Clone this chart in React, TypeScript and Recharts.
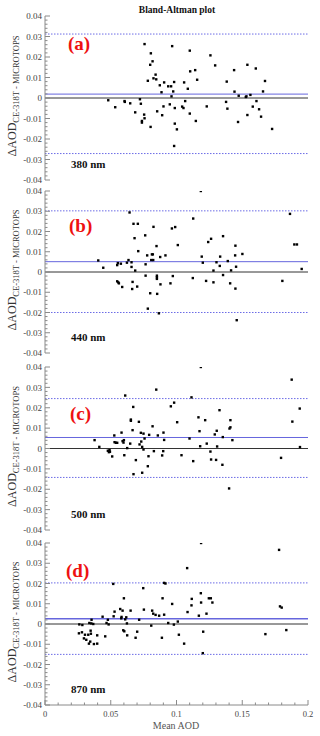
import React from "react";
import {
  ScatterChart,
  Scatter,
  XAxis,
  YAxis,
  ReferenceLine,
} from "recharts";

// Mean AOD vs difference (CE-318T - MICROTOPS)
const pts380: [number, number][] = [
  [0.0481, -0.0011], [0.0534, -0.0045], [0.0605, -0.0015], [0.0607, -0.0019],
  [0.0648, -0.0026], [0.0686, -0.007], [0.0722, -0.0006], [0.0729, -0.0028],
  [0.0737, -0.0112], [0.0737, -0.012], [0.0754, -0.0081], [0.0757, -0.0099],
  [0.0757, 0.0263], [0.0782, 0.0084], [0.08, 0.0162], [0.0805, 0.0218],
  [0.0818, 0.0179], [0.0803, -0.0141], [0.0825, 0.0096], [0.0841, 0.0114],
  [0.0846, 0.0091], [0.0853, -0.0065], [0.0873, 0.0062], [0.0886, 0.0028],
  [0.0891, -0.0084], [0.0901, -0.0041], [0.0906, 0.0076], [0.0937, 0.0057],
  [0.0949, -0.0031], [0.0959, 0.0057], [0.0962, 0.0008], [0.0967, 0.0253],
  [0.0975, 0.0032], [0.0982, 0.0078], [0.0987, -0.0049], [0.0987, -0.0125],
  [0.0982, -0.0234], [0.1003, -0.0153], [0.1043, -0.0042], [0.1053, -0.0049],
  [0.1058, 0.0076], [0.1066, -0.0015], [0.1086, 0.0045], [0.1101, 0.0231],
  [0.1104, 0.013], [0.1101, -0.0076], [0.1142, 0.0136], [0.1147, -0.0112],
  [0.1157, 0.0089], [0.123, -0.0041], [0.1258, 0.0208], [0.1294, 0.0159],
  [0.1377, -0.0019], [0.1382, 0.008], [0.1387, -0.0052], [0.1438, 0.0136],
  [0.1441, 0.0031], [0.1468, -0.0117], [0.1473, 0.0011], [0.1527, 0.0005],
  [0.1532, 0.0008], [0.1539, 0.0162], [0.1539, -0.0083], [0.1562, 0.0015],
  [0.158, -0.0042], [0.1603, 0.0144], [0.1608, -0.0015], [0.1628, -0.0055],
  [0.1643, -0.0091], [0.1658, 0.0032], [0.1673, 0.0083], [0.1727, -0.0151],
];

const pts440: [number, number][] = [
  [0.0405, 0.0057], [0.0443, 0.0021], [0.0549, 0.0034], [0.0554, 0.0044],
  [0.0549, -0.0046], [0.0557, -0.0051], [0.0562, -0.0056], [0.0577, 0.0041],
  [0.0587, -0.0074], [0.0623, 0.0046], [0.0635, 0.0059], [0.0643, 0.0294],
  [0.0658, 0.0048], [0.0658, 0.0025], [0.0666, -0.0049], [0.0663, -0.0084],
  [0.0673, 0.0238], [0.0681, 0.0167], [0.0686, 0.0007], [0.0701, -0.0072],
  [0.0706, 0.0238], [0.0709, 0.0103], [0.0762, 0.0181], [0.0765, 0.0038],
  [0.0765, -0.0018], [0.0777, 0.0082], [0.0782, -0.0181], [0.08, -0.0105],
  [0.0808, 0.0059], [0.0813, 0.0087], [0.082, 0.0087], [0.0823, 0.0059],
  [0.0825, 0.0223], [0.0848, 0.0128], [0.0851, -0.0018], [0.0851, -0.0026],
  [0.0851, -0.0034], [0.0853, -0.0108], [0.0866, -0.0204], [0.0876, 0.0074],
  [0.0878, -0.0061], [0.0916, 0.0082], [0.0954, -0.0056], [0.0972, -0.002],
  [0.0965, 0.0215], [0.099, 0.0222], [0.101, 0.0133], [0.1124, -0.003],
  [0.1127, 0.0264], [0.1185, 0.04], [0.1192, 0.0076], [0.12, 0.0046],
  [0.1225, -0.0044], [0.1241, 0.0148], [0.1263, 0.0164], [0.1281, -0.0051],
  [0.1281, 0.0007], [0.1304, 0.0048], [0.1329, 0.003], [0.1332, 0.0076],
  [0.1354, 0.0177], [0.1354, -0.0015], [0.139, 0.0054], [0.1408, -0.0056],
  [0.1415, 0.0008], [0.1446, 0.0082], [0.1448, 0.013], [0.1448, -0.0082],
  [0.1453, 0.0026], [0.1458, -0.0238], [0.1501, 0.0089], [0.1805, -0.0044],
  [0.1863, 0.0287], [0.1896, 0.0136], [0.1916, 0.0136], [0.1952, 0.0015],
];

const pts500: [number, number][] = [
  [0.0377, 0.0041], [0.0413, 0.0008], [0.0478, -0.0011], [0.0486, -0.0018],
  [0.0491, -0.0008], [0.0494, -0.0016], [0.0511, -0.0039], [0.0527, 0.0064],
  [0.0529, 0.0031], [0.0539, 0.0028], [0.0549, 0.0028], [0.0582, 0.0078],
  [0.059, 0.0036], [0.0597, 0.0029], [0.06, 0.0041], [0.0603, -0.0033],
  [0.061, 0.026], [0.0625, 0.0002], [0.0648, 0.0024], [0.0653, 0.0142],
  [0.0653, 0.0136], [0.0666, 0.009], [0.0671, 0.0204], [0.0673, -0.0126],
  [0.0691, -0.0057], [0.0714, 0.0131], [0.0719, 0.002], [0.0729, 0.0077],
  [0.0732, 0.0034], [0.0739, 0.0008], [0.0739, -0.0119], [0.0749, 0.0073],
  [0.0749, -0.0005], [0.0757, 0.0049], [0.0787, -0.0038], [0.0782, -0.0087],
  [0.0792, 0.0067], [0.0818, 0.0109], [0.0828, -0.0013], [0.0846, 0.0289],
  [0.0858, 0.0064], [0.0891, -0.0034], [0.0899, -0.0013], [0.0901, 0.0078],
  [0.0906, 0.0042], [0.0957, 0.0207], [0.0982, 0.0225], [0.1005, 0.0129],
  [0.1038, -0.0033], [0.1099, 0.0049], [0.1114, 0.0251], [0.1127, -0.0062],
  [0.1167, 0.0153], [0.1175, 0.0085], [0.118, 0.0011], [0.1185, 0.04],
  [0.1218, 0.0139], [0.123, 0.0024], [0.1258, -0.0015], [0.1263, -0.0054],
  [0.1291, 0.0069], [0.1301, -0.0056], [0.1306, 0.0087], [0.1309, 0.001],
  [0.1327, 0.0188], [0.1349, -0.008], [0.1352, 0.0056], [0.14, -0.0196],
  [0.1403, 0.0098], [0.141, 0.0139], [0.141, 0.0104], [0.1425, 0.0041],
  [0.1795, -0.0046], [0.1876, 0.0338], [0.1881, 0.0132], [0.1937, 0.0196],
  [0.1939, 0.0007],
];

const pts870: [number, number][] = [
  [0.0261, -0.0002], [0.0258, -0.0046], [0.0284, -0.0005], [0.0281, -0.0041],
  [0.0296, -0.0071], [0.0304, -0.0053], [0.0314, -0.0078], [0.0329, -0.0053],
  [0.0334, -0.0097], [0.0337, 0.0005], [0.0344, -0.0087], [0.0349, -0.0048],
  [0.0347, -0.0033], [0.0352, 0.0003], [0.0354, 0.0021], [0.0367, 0.0],
  [0.0372, -0.0099], [0.0397, -0.0056], [0.0397, -0.0097], [0.0438, 0.0036],
  [0.0458, -0.0061], [0.0468, 0.0005], [0.0478, 0.0021], [0.0484, -0.0002],
  [0.0519, 0.0198], [0.0522, 0.0038], [0.0529, 0.0061], [0.0572, 0.0074],
  [0.058, 0.0028], [0.0582, 0.0035], [0.059, 0.0066], [0.0595, -0.0031],
  [0.06, 0.0127], [0.0603, -0.0036], [0.061, 0.0023], [0.0618, 0.0033],
  [0.0623, 0.0003], [0.0625, -0.0056], [0.0651, 0.0066], [0.0689, -0.0068],
  [0.0701, -0.0038], [0.0716, 0.0021], [0.0747, 0.0177], [0.0752, 0.0071],
  [0.0808, -0.0008], [0.0815, 0.0066], [0.0823, 0.0051], [0.0841, 0.0045],
  [0.0868, 0.0041], [0.0889, -0.0068], [0.0894, 0.0127], [0.0906, 0.0046],
  [0.0906, 0.0203], [0.0916, 0.02], [0.0937, 0.0005], [0.0967, 0.0099],
  [0.098, -0.0003], [0.101, 0.0012], [0.1018, -0.0053], [0.1058, -0.0097],
  [0.1081, 0.0276], [0.1084, 0.0059], [0.1114, 0.0092], [0.1116, 0.0124],
  [0.117, 0.0041], [0.1185, 0.0152], [0.1187, 0.0106], [0.1187, 0.04],
  [0.12, -0.0144], [0.1203, -0.0038], [0.1228, 0.0051], [0.1246, 0.0127],
  [0.1261, 0.0127], [0.1273, 0.0106], [0.1676, -0.005], [0.178, 0.0366],
  [0.1787, 0.0087], [0.18, 0.0081], [0.1835, -0.003],
];

const series = [pts380, pts440, pts500, pts870];
const wavelengths = ["380 nm", "440 nm", "500 nm", "870 nm"];
const tags = ["(a)", "(b)", "(c)", "(d)"];
const bias = [0.0019, 0.0051, 0.0054, 0.0026];
const upperLoA = [0.0312, 0.0302, 0.0245, 0.0203];
const lowerLoA = [-0.0271, -0.02, -0.0142, -0.015];

// layout of each panel: plot top (px), plot height, tag baseline offset
const plotTops = [16, 191, 367, 543];
const plotHeights = [164, 162, 163, 162];
const tagOffsets = [34, 41, 53, 34];
const tagX = [68, 69, 70, 66];

const xTicks = Array.from({ length: 21 }, (_, i) => i / 100);
const yTicks = Array.from({ length: 41 }, (_, i) => (i - 20) / 500);

const FRAME = "#8a8a8a";
const FONT = "'Liberation Serif', 'DejaVu Serif', serif";

const isMajorX = (v: number) => Math.round(v * 100) % 5 === 0;
const isMajorY = (v: number) => Math.abs(v * 100 - Math.round(v * 100)) < 1e-6;
const fmt = (v: number) => {
  const n = Math.round(v * 100);
  return n === 0 ? "0" : String(n / 100);
};

const BottomTick = (props: any) => {
  const { x, y, payload, showLabel } = props;
  const v = payload.value;
  const major = isMajorX(v);
  return (
    <g>
      <line x1={x} x2={x} y1={y} y2={y - (major ? 5 : 2.5)} stroke={FRAME} />
      {showLabel && major && (
        <text x={x} y={y + 12} textAnchor="middle" fontSize={8.5} fill="#444" fontFamily={FONT}>
          {fmt(v)}
        </text>
      )}
    </g>
  );
};

const TopTick = (props: any) => {
  const { x, y, payload } = props;
  const major = isMajorX(payload.value);
  return <line x1={x} x2={x} y1={y} y2={y + (major ? 5 : 2.5)} stroke={FRAME} />;
};

const LeftTick = (props: any) => {
  const { x, y, payload } = props;
  const v = payload.value;
  const major = isMajorY(v);
  return (
    <g>
      <line x1={x} x2={x + (major ? 5 : 2.5)} y1={y} y2={y} stroke={FRAME} />
      {major && (
        <text x={x - 3} y={y} dy="0.35em" textAnchor="end" fontSize={9} fill="#444" fontFamily={FONT}>
          {fmt(v)}
        </text>
      )}
    </g>
  );
};

const RightTick = (props: any) => {
  const { x, y, payload } = props;
  const major = isMajorY(payload.value);
  return <line x1={x} x2={x - (major ? 5 : 2.5)} y1={y} y2={y} stroke={FRAME} />;
};

const Dot = (props: any) => (
  <rect x={props.cx - 1.2} y={props.cy - 1.2} width={2.4} height={2.4} fill="#000" />
);

const Panel = ({ i }: { i: number }) => {
  const last = i === 3;
  const mTop = 6;
  const axisH = last ? 24 : 0;
  const mBottom = last ? 0 : 6;
  const height = mTop + plotHeights[i] + axisH + mBottom;
  const data = series[i].map(([x, y]) => ({ x, y }));
  return (
    <div style={{ position: "absolute", left: 0, top: plotTops[i] - mTop }}>
      <ScatterChart
        width={320}
        height={height}
        margin={{ top: mTop, right: 12, bottom: mBottom, left: 0 }}
      >
        <XAxis
          dataKey="x"
          type="number"
          domain={[0, 0.2]}
          ticks={xTicks}
          interval={0}
          height={axisH}
          tickSize={0}
          tickMargin={0}
          tickLine={false}
          axisLine={{ stroke: FRAME }}
          tick={(p: any) => <BottomTick {...p} showLabel={last} />}
        />
        <XAxis
          xAxisId="t"
          orientation="top"
          type="number"
          domain={[0, 0.2]}
          ticks={xTicks}
          interval={0}
          height={0}
          tickSize={0}
          tickMargin={0}
          tickLine={false}
          axisLine={{ stroke: FRAME }}
          tick={(p: any) => <TopTick {...p} />}
        />
        <YAxis
          dataKey="y"
          type="number"
          domain={[-0.04, 0.04]}
          allowDataOverflow
          ticks={yTicks}
          interval={0}
          width={45}
          tickSize={0}
          tickMargin={0}
          tickLine={false}
          axisLine={{ stroke: FRAME }}
          tick={(p: any) => <LeftTick {...p} />}
        />
        <YAxis
          yAxisId="r"
          orientation="right"
          type="number"
          domain={[-0.04, 0.04]}
          ticks={yTicks}
          interval={0}
          width={0}
          tickSize={0}
          tickMargin={0}
          tickLine={false}
          axisLine={{ stroke: FRAME }}
          tick={(p: any) => <RightTick {...p} />}
        />
        <ReferenceLine y={upperLoA[i]} stroke="#6c6ce6" strokeDasharray="1.5 1.5" />
        <ReferenceLine y={lowerLoA[i]} stroke="#6c6ce6" strokeDasharray="1.5 1.5" />
        <ReferenceLine y={0} stroke="#333" />
        <ReferenceLine y={bias[i]} stroke="#6666dd" strokeWidth={last ? 1.6 : 1} />
        <Scatter data={data} shape={Dot} isAnimationActive={false} />
      </ScatterChart>
    </div>
  );
};

export default function App() {
  return (
    <div
      style={{
        position: "absolute",
        left: 0,
        top: 0,
        width: 320,
        height: 736,
        overflow: "hidden",
        background: "#fff",
      }}
    >
      {series.map((_, i) => (
        <Panel key={i} i={i} />
      ))}
      <svg
        width={320}
        height={736}
        style={{ position: "absolute", left: 0, top: 0, pointerEvents: "none" }}
        fontFamily={FONT}
      >
        <text x={177} y={13} textAnchor="middle" fontSize={9.5} fontWeight="bold" fill="#111">
          Bland-Altman plot
        </text>
        {series.map((_, i) => {
          const mid = plotTops[i] + plotHeights[i] / 2 - 2;
          return (
            <g key={i}>
              <text
                x={tagX[i]}
                y={plotTops[i] + tagOffsets[i]}
                fontSize={19}
                fontWeight="bold"
                fill="#ee1111"
              >
                {tags[i]}
              </text>
              <text
                x={71}
                y={plotTops[i] + plotHeights[i] - 12}
                fontSize={11}
                fontWeight="bold"
                fill="#111"
              >
                {wavelengths[i]}
              </text>
              <text
                transform={`translate(16, ${mid}) rotate(-90)`}
                textAnchor="middle"
                fill="#333"
              >
                <tspan fontSize={12}>ΔAOD</tspan>
                <tspan fontSize={8.5} dy={3}>
                  CE-318T - MICROTOPS
                </tspan>
              </text>
            </g>
          );
        })}
        <text x={176} y={729} textAnchor="middle" fontSize={10} fill="#555">
          Mean AOD
        </text>
      </svg>
    </div>
  );
}
